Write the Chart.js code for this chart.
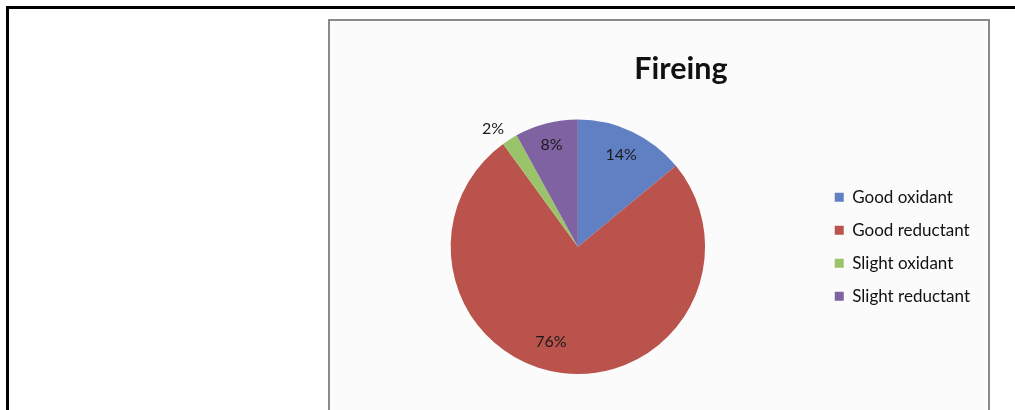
<!DOCTYPE html>
<html>
<head>
<meta charset="utf-8">
<script src="https://cdn.jsdelivr.net/npm/chart.js@4/dist/chart.umd.min.js"></script>
<style>
  html, body { margin: 0; padding: 0; background: #ffffff; width: 1015px; height: 410px; overflow: hidden; }
  #outer { position: absolute; left: 6px; top: 6px; width: 1020px; height: 420px; border-top: 3px solid #000; border-left: 3px solid #000; }
  #box { position: absolute; left: 328px; top: 19px; width: 658px; height: 420px; border: 2px solid #8a8a8a; background: #fbfbfb; }
  #wrap { position: absolute; left: 0; top: 0; width: 1015px; height: 410px; }
</style>
</head>
<body>
<div id="outer"></div>
<div id="box"></div>
<div id="wrap"><canvas id="c" width="1015" height="410"></canvas></div>
<script>
const categories = ['Good oxidant', 'Good reductant', 'Slight oxidant', 'Slight reductant'];
const values = [14, 76, 2, 8];
const percentLabels = ['14%', '76%', '2%', '8%'];
const colors = ['#6180c4', '#b9534b', '#9bc46a', '#7f62a2'];
const chartTitle = 'Fireing';

const FONT = 'Lato, "Open Sans", sans-serif';

const pctLabelPlugin = {
  id: 'pctLabels',
  afterDatasetsDraw(chart, args, opts) {
    const ctx = chart.ctx;
    const meta = chart.getDatasetMeta(0);
    ctx.save();
    ctx.font = opts.font;
    ctx.fillStyle = opts.color;
    ctx.textAlign = 'center';
    ctx.textBaseline = 'middle';
    meta.data.forEach((arc, i) => {
      const p = arc.getProps(['x', 'y', 'startAngle', 'endAngle', 'outerRadius'], true);
      const frac = (p.endAngle - p.startAngle) / (2 * Math.PI);
      const shift = (opts.angleShift[i] || 0) * Math.PI / 180;
      const mid = (p.startAngle + p.endAngle) / 2 + shift;
      const f = frac < 0.05 ? opts.outsideFactor : (opts.radiusFactor[i] || opts.insideFactor);
      const r = p.outerRadius * f;
      ctx.fillText(percentLabels[i], p.x + r * Math.cos(mid), p.y + r * Math.sin(mid));
    });
    ctx.restore();
  }
};

const titleShiftPlugin = {
  id: 'titleShift',
  afterLayout(chart, args, opts) {
    const t = chart.titleBlock;
    if (t) { t.left += opts.dx; t.right += opts.dx; }
  }
};

new Chart(document.getElementById('c'), {
  type: 'pie',
  data: {
    labels: categories,
    datasets: [{
      data: values,
      backgroundColor: colors,
      borderWidth: 0
    }]
  },
  options: {
    responsive: false,
    animation: false,
    layout: { padding: { left: 337, right: 35, top: 0, bottom: 36 } },
    plugins: {
      tooltip: { enabled: false },
      title: {
        display: true,
        text: chartTitle,
        color: '#111111',
        font: { family: FONT, size: 30.5, weight: 'bold' },
        padding: { top: 51, bottom: 32 }
      },
      legend: {
        display: true,
        position: 'right',
        fullSize: false,
        labels: {
          boxWidth: 9,
          boxHeight: 9,
          padding: 16,
          color: '#111111',
          font: { family: FONT, size: 17 }
        }
      },
      pctLabels: {
        font: '16px ' + FONT,
        color: '#1a1a1a',
        insideFactor: 0.8,
        radiusFactor: [0.8, 0.78, 0, 0.83],
        outsideFactor: 1.145,
        angleShift: [0, 8.6, -3.2, 0]
      },
      titleShift: { dx: 22.5 }
    }
  },
  plugins: [pctLabelPlugin, titleShiftPlugin]
});
</script>
</body>
</html>
